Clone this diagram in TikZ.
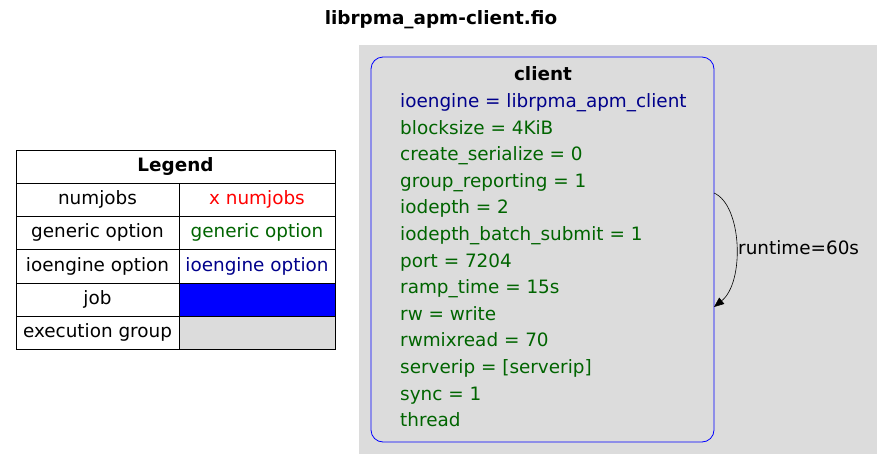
\documentclass[tikz,border=0pt]{standalone}
\usepackage{fontspec}
\setmainfont{DejaVu Sans}
\usetikzlibrary{arrows.meta}
\definecolor{grp}{RGB}{220,220,220}
\definecolor{optgreen}{RGB}{0,100,0}
\definecolor{optblue}{RGB}{0,0,139}
\begin{document}
\begin{tikzpicture}[x=1pt,y=-1pt,
  txt/.style={font=\fontsize{18.4}{22}\selectfont, inner sep=0pt, anchor=base},
  bld/.style={font=\fontsize{18.4}{22}\selectfont\bfseries, inner sep=0pt, anchor=base},
  gen/.style={txt, text=optgreen, anchor=base west},
  cell/.style={draw=black, line width=0.8pt},
]
\useasboundingbox (0,0) rectangle (889,469);
% title
\node[bld] (title) at (441,24) {librpma\_apm-client.fio};
% legend
\draw[cell] (16,150) rectangle (335,183);
\node[bld] (lg) at (175.5,171) {Legend};
\draw[cell] (16,183) rectangle (179,216);
\draw[cell] (179,183) rectangle (335,216);
\draw[cell] (16,216) rectangle (179,249);
\draw[cell] (179,216) rectangle (335,249);
\draw[cell] (16,249) rectangle (179,283);
\draw[cell] (179,249) rectangle (335,283);
\draw[cell] (16,283) rectangle (179,316);
\draw[cell, fill=blue] (179,283) rectangle (335,316);
\draw[cell] (16,316) rectangle (179,349);
\draw[cell, fill=grp] (179,316) rectangle (335,349);
\node[txt] (l1) at (97.5,204.5) {numjobs};
\node[txt, text=red] (r1) at (257,204.5) {x numjobs};
\node[txt] (l2) at (97.5,237.5) {generic option};
\node[txt, text=optgreen] (r2) at (257,237.5) {generic option};
\node[txt] (l3) at (97.5,271) {ioengine option};
\node[txt, text=optblue] (r3) at (257,271) {ioengine option};
\node[txt] (l4) at (97.5,304.5) {job};
\node[txt] (l5) at (97.5,337.5) {execution group};
% cluster
\fill[grp] (359,45) rectangle (877,454);
\draw[blue, line width=0.8pt, rounded corners=12pt] (371,57) rectangle (714,442);
\coordinate (cA) at (714,193);
\coordinate (cB) at (714,307);
\node[bld] (cl) at (543,80.5) {client};
\node[gen, text=optblue] (o0) at (400,107.5) {ioengine = librpma\_apm\_client};
\node[gen] (o1) at (400,134.1) {blocksize = 4KiB};
\node[gen] (o2) at (400,160.7) {create\_serialize = 0};
\node[gen] (o3) at (400,187.3) {group\_reporting = 1};
\node[gen] (o4) at (400,213.9) {iodepth = 2};
\node[gen] (o5) at (400,240.5) {iodepth\_batch\_submit = 1};
\node[gen] (o6) at (400,267.1) {port = 7204};
\node[gen] (o7) at (400,293.7) {ramp\_time = 15s};
\node[gen] (o8) at (400,320.3) {rw = write};
\node[gen] (o9) at (400,346.9) {rwmixread = 70};
\node[gen] (o10) at (400,373.5) {serverip = [serverip]};
\node[gen] (o11) at (400,400.1) {sync = 1};
\node[gen] (o12) at (400,426.7) {thread};
% self loop
\draw[-{Triangle[length=10pt,width=8pt]}, line width=0.6pt] (cA) .. controls (742,205) and (745,282) .. (cB);
\node[txt, anchor=base west] (rt) at (738,254.5) {runtime=60s};
\end{tikzpicture}
\end{document}
